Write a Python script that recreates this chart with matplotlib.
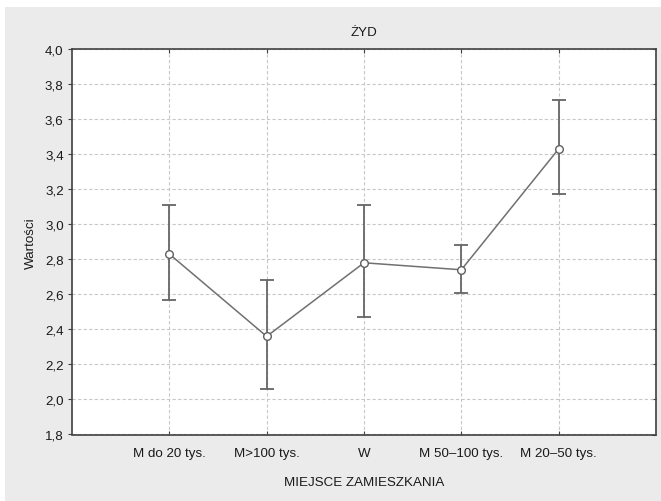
import matplotlib
matplotlib.use("Agg")
import matplotlib.pyplot as plt
from matplotlib.patches import Rectangle
import numpy as np

plt.rcParams['font.family'] = ['Liberation Sans', 'DejaVu Sans']

categories = ["M do 20 tys.", "M>100 tys.", "W", "M 50\u2013100 tys.", "M 20\u201350 tys."]
means = [2.83, 2.36, 2.78, 2.74, 3.43]
upper = [3.11, 2.68, 3.11, 2.88, 3.71]
lower = [2.57, 2.06, 2.47, 2.61, 3.17]
yticks = [1.8, 2.0, 2.2, 2.4, 2.6, 2.8, 3.0, 3.2, 3.4, 3.6, 3.8, 4.0]

fig = plt.figure(figsize=(6.61, 5.02), dpi=100)
fig.patch.set_facecolor('white')
bg = Rectangle((5/661, 0), 1 - 5/661, 1 - 8/502, transform=fig.transFigure,
               facecolor='#ebebec', edgecolor='none', zorder=-10)
fig.patches.append(bg)

ax = fig.add_axes([72/661, 1 - 435.5/502, (656 - 72)/661, (435.5 - 50)/502])
ax.set_facecolor('white')

x = np.arange(1, len(categories) + 1)
m = np.array(means)
err = np.vstack([m - np.array(lower), np.array(upper) - m])

ax.errorbar(x, m, yerr=err, fmt='none', ecolor='#666666', elinewidth=1.3,
            capsize=5, capthick=1.3, zorder=3)
ax.plot(x, m, color='#707070', lw=1.1, marker='o', markersize=5.5,
        markerfacecolor='white', markeredgecolor='#606060', markeredgewidth=1.0, zorder=4)

ax.set_xlim(0, 6)
ax.set_ylim(1.8, 4.0)
ax.set_xticks(x)
ax.set_xticklabels(categories, fontsize=9.6)
ax.set_yticks(yticks)
ax.set_yticklabels([f"{v:.1f}".replace('.', ',') for v in yticks], fontsize=9.6)

ax.grid(True, linestyle=(0, (3, 2)), color='#c8c8c8', linewidth=0.8)
ax.set_axisbelow(True)

for s in ax.spines.values():
    s.set_color('#404040')
    s.set_linewidth(1.2)

ax.tick_params(axis='x', direction='in', top=True, bottom=True, length=3,
               color='#404040', labelcolor='#1a1a1a', pad=9)
ax.tick_params(axis='y', which='both', left=True, right=False, direction='out',
               length=3, color='#404040', labelcolor='#1a1a1a', pad=3)
ax2 = ax.secondary_yaxis('right')
ax2.set_yticks(yticks)
ax2.tick_params(direction='in', length=3, color='#404040', labelright=False)
ax2.spines['right'].set_visible(False)

ax.set_title("\u017bYD", fontsize=9.6, color='#1a1a1a', pad=10)
ax.set_ylabel("Warto\u015bci", fontsize=9.6, color='#1a1a1a', labelpad=6)
ax.set_xlabel("MIEJSCE ZAMIESZKANIA", fontsize=9.6, color='#1a1a1a', labelpad=12)

fig.savefig("out.png", dpi=100, facecolor=fig.get_facecolor())
